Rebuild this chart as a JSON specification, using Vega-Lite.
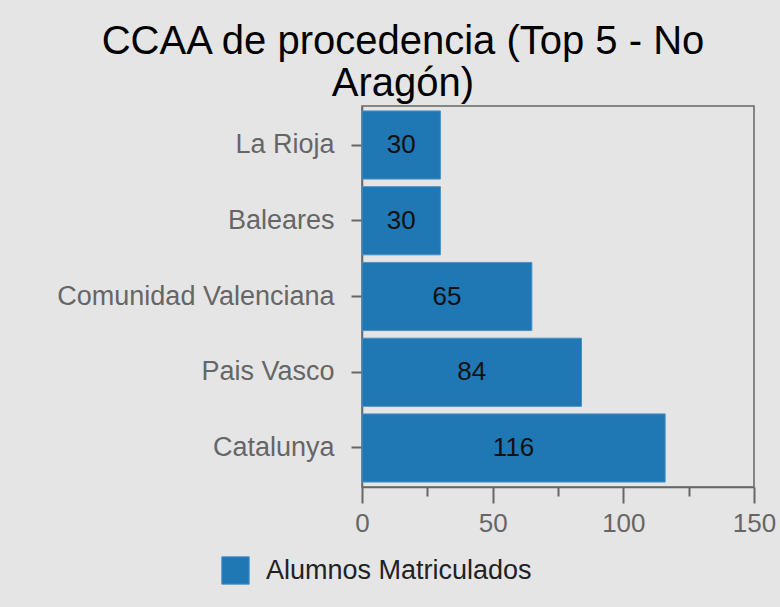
{
  "$schema": "https://vega.github.io/schema/vega-lite/v6.json",
  "autosize": {"type": "none"},
  "width": 392,
  "height": 381,
  "padding": {"left": 362, "top": 106, "right": 26, "bottom": 120},
  "background": "#e5e5e5",
  "data": {
    "values": [
      {"ccaa": "La Rioja", "alumnos": 30},
      {"ccaa": "Baleares", "alumnos": 30},
      {"ccaa": "Comunidad Valenciana", "alumnos": 65},
      {"ccaa": "Pais Vasco", "alumnos": 84},
      {"ccaa": "Catalunya", "alumnos": 116}
    ]
  },
  "title": {
    "text": ["CCAA de procedencia (Top 5 - No", "Aragón)"],
    "font": "Liberation Sans",
    "fontSize": 40,
    "fontWeight": "normal",
    "color": "#000000",
    "lineHeight": 42,
    "anchor": "middle",
    "frame": "group",
    "dx": -155,
    "offset": 2
  },
  "config": {
    "view": {"stroke": "#666666", "strokeWidth": 1.5},
    "font": "Liberation Sans"
  },
  "encoding": {
    "y": {
      "field": "ccaa",
      "type": "nominal",
      "sort": ["La Rioja", "Baleares", "Comunidad Valenciana", "Pais Vasco", "Catalunya"],
      "scale": {"paddingInner": 0.1, "paddingOuter": 0.065},
      "axis": {
        "title": null,
        "labelFont": "Liberation Sans",
        "labelFontSize": 27,
        "labelColor": "#666666",
        "labelPadding": 17,
        "tickSize": 11,
        "tickWidth": 2,
        "tickColor": "#666666",
        "domainColor": "#666666",
        "domainWidth": 1.5,
        "labelLimit": 400
      }
    }
  },
  "layer": [
    {
      "mark": {"type": "bar", "fill": "#1f77b4", "stroke": "#4a90c8", "strokeWidth": 1},
      "encoding": {
        "x": {
          "field": "alumnos",
          "type": "quantitative",
          "scale": {"domain": [0, 150], "nice": false},
          "axis": {
            "title": null,
            "values": [0, 25, 50, 75, 100, 125, 150],
            "labelExpr": "datum.value % 50 === 0 ? datum.label : ''",
            "labelFlush": false,
            "labelFont": "Liberation Sans",
            "labelFontSize": 26,
            "labelColor": "#666666",
            "labelPadding": 7,
            "tickSize": {"condition": {"test": "datum.value % 50 === 0", "value": 16}, "value": 9},
            "tickWidth": 2,
            "tickColor": "#666666",
            "domainColor": "#666666",
            "domainWidth": 1.5,
            "grid": false
          }
        },
        "color": {
          "datum": "Alumnos Matriculados",
          "type": "nominal",
          "scale": {"range": ["#1f77b4"]},
          "legend": {
            "title": null,
            "orient": "none",
            "legendX": -141,
            "legendY": 450,
            "symbolType": "square",
            "symbolSize": 750,
            "symbolStrokeColor": "#4a90c8",
            "symbolStrokeWidth": 1,
            "labelFont": "Liberation Sans",
            "labelFontSize": 27,
            "labelColor": "#222222",
            "labelOffset": 16,
            "labelLimit": 500
          }
        }
      }
    },
    {
      "mark": {"type": "text", "font": "Liberation Sans", "fontSize": 26, "color": "#111111", "align": "center", "baseline": "middle"},
      "encoding": {
        "x": {"field": "alumnos", "type": "quantitative", "stack": "zero", "bandPosition": 0.5},
        "text": {"field": "alumnos", "type": "quantitative"}
      }
    }
  ]
}
